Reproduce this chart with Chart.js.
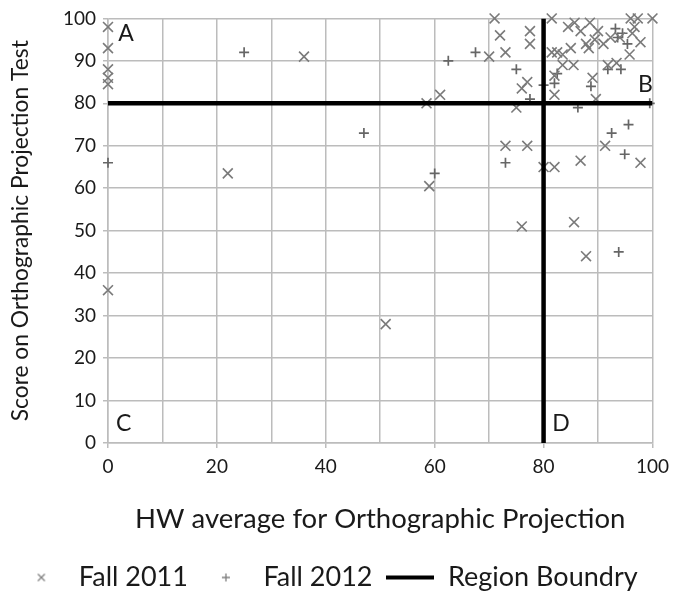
<!DOCTYPE html>
<html>
<head>
<meta charset="utf-8">
<script src="https://cdn.jsdelivr.net/npm/chart.js@4"></script>
<style>
  html, body { margin: 0; padding: 0; background: #fff; }
  #wrap { width: 676px; height: 605px; }
</style>
</head>
<body>
<div id="wrap"><canvas id="chart"></canvas></div>
<script>
// Fall 2011 students: [HW average, test score]
const fall2011 = [
  [0, 98], [0, 93], [0, 88], [0, 86], [0, 84.5], [0, 36],
  [22, 63.5], [36, 91], [51, 28], [58.5, 80], [61, 82], [59, 60.5],
  [71, 100], [72, 96], [77.5, 97], [77.5, 94], [70, 91], [73, 92],
  [77, 85], [76, 83.5], [75, 79], [73, 70], [77, 70], [80, 65], [82, 65], [76, 51],
  [81.5, 100], [84.5, 98], [85.7, 99], [86.8, 97], [88.5, 99], [81.5, 92], [82.5, 92],
  [83.5, 91.5], [85, 93], [83.5, 89], [85.5, 89], [82, 86.5], [82, 82],
  [87.8, 94], [88.3, 93], [89.4, 95], [90, 97], [91, 94], [92.3, 95.5], [94, 95.5],
  [96, 100], [97.3, 100], [100, 100], [96.7, 98], [96.3, 96.5], [97.8, 94.4],
  [95.8, 91.5], [91.8, 89], [93.4, 89.5], [89, 86], [89.6, 81], [91.3, 70],
  [86.8, 66.5], [97.8, 66], [85.6, 52], [87.8, 44]
];

// Fall 2012 students
const fall2012 = [
  [0, 66], [25, 92], [47, 73], [60, 63.5], [62.5, 90], [67.5, 92], [75, 88],
  [77.5, 81], [80, 84.3], [82, 84.7], [82.5, 87], [86.3, 79], [88.7, 84],
  [93.2, 97.6], [93.6, 95.5], [94.5, 96.5], [95.4, 94], [91.8, 88], [94.2, 88],
  [99.5, 80], [73, 66], [92.5, 73], [95.6, 75], [94.9, 68], [93.8, 45]
];

// region boundary: horizontal at 80, vertical at 80 (null breaks the line)
const boundaryX = [0, 100, 80, 80, 80];
const boundaryY = [80, 80, null, 0, 100];

// region letters
const regionNames = ['A', 'B', 'C', 'D'];
const regionX = [3.3, 98.7, 2.9, 83.2];
const regionY = [96.5, 84.3, 4.5, 4.5];

const FONT = 'Lato';
const toPts = (rows) => rows.map(([x, y]) => ({ x, y }));

// small canvases used as legend symbols
function legendIcon(w, h, draw) {
  const c = document.createElement('canvas');
  c.width = w;
  c.height = h;
  draw(c.getContext('2d'));
  return c;
}
const iconX = legendIcon(10, 10, (g) => {
  g.strokeStyle = '#7f7f7f'; g.lineWidth = 1.3;
  g.beginPath(); g.moveTo(1.5, 1.5); g.lineTo(8.5, 8.5); g.moveTo(8.5, 1.5); g.lineTo(1.5, 8.5); g.stroke();
});
const iconPlus = legendIcon(10, 10, (g) => {
  g.strokeStyle = '#7f7f7f'; g.lineWidth = 1.3;
  g.beginPath(); g.moveTo(1, 5); g.lineTo(9, 5); g.moveTo(5, 1); g.lineTo(5, 9); g.stroke();
});
const iconLine = legendIcon(48, 5, (g) => {
  g.fillStyle = '#000'; g.fillRect(0, 0.5, 48, 4);
});
const legendIcons = [iconX, iconPlus, iconLine];

const regionLabels = {
  id: 'regionLabels',
  afterDatasetsDraw(chart) {
    const { ctx, scales } = chart;
    ctx.save();
    ctx.fillStyle = '#1a1a1a';
    ctx.font = `23px ${FONT}`;
    ctx.textAlign = 'center';
    ctx.textBaseline = 'middle';
    regionNames.forEach((t, i) => {
      ctx.fillText(t, scales.x.getPixelForValue(regionX[i]), scales.y.getPixelForValue(regionY[i]));
    });
    ctx.restore();
  },
};

new Chart(document.getElementById('chart'), {
  type: 'scatter',
  data: {
    datasets: [
      {
        label: 'Fall 2011',
        data: toPts(fall2011),
        pointStyle: 'crossRot',
        pointRadius: 7,
        pointBorderWidth: 1.6,
        pointBorderColor: '#7a7a7a',
        pointBackgroundColor: '#7a7a7a',
        borderColor: '#7a7a7a',
        clip: false,
        order: 2,
      },
      {
        label: 'Fall 2012',
        data: toPts(fall2012),
        pointStyle: 'cross',
        pointRadius: 5,
        pointBorderWidth: 1.7,
        pointBorderColor: '#666',
        pointBackgroundColor: '#666',
        borderColor: '#666',
        clip: false,
        order: 3,
      },
      {
        label: 'Region Boundry',
        data: boundaryX.map((x, i) => ({ x, y: boundaryY[i] })),
        showLine: true,
        spanGaps: false,
        borderColor: '#000',
        borderWidth: 4.5,
        pointRadius: 0,
        pointHoverRadius: 0,
        order: 1,
      },
    ],
  },
  options: {
    responsive: true,
    maintainAspectRatio: false,
    animation: false,
    events: [],
    layout: { padding: { top: 18, right: 21, bottom: 4, left: 0 } },
    plugins: {
      tooltip: { enabled: false },
      legend: {
        position: 'bottom',
        labels: {
          usePointStyle: true,
          pointStyleWidth: 48,
          boxHeight: 8,
          padding: 14,
          color: '#1a1a1a',
          font: { family: FONT, size: 27 },
          sort: (a, b) => a.datasetIndex - b.datasetIndex,
          generateLabels: (chart) => {
            const items = Chart.defaults.plugins.legend.labels.generateLabels(chart);
            items.forEach((it) => { it.pointStyle = legendIcons[it.datasetIndex]; });
            return items;
          },
        },
      },
    },
    scales: {
      x: {
        type: 'linear',
        min: 0,
        max: 100,
        afterFit: (s) => { s.height = 107; },
        ticks: {
          stepSize: 10,
          padding: 7,
          color: '#1a1a1a',
          font: { family: FONT, size: 19 },
          callback: (v) => (v % 20 === 0 ? v : ''),
        },
        grid: {
          color: '#bcbcbc',
          lineWidth: 1.5,
          tickLength: 5,
          tickColor: (c) => (c.tick && c.tick.value % 20 === 0 ? '#bcbcbc' : 'rgba(0,0,0,0)'),
        },
        border: { color: '#bcbcbc', width: 1.5 },
        title: {
          display: true,
          text: 'HW average for Orthographic Projection',
          color: '#1a1a1a',
          font: { family: FONT, size: 27.5 },
          padding: { top: 0, bottom: 14 },
        },
      },
      y: {
        type: 'linear',
        min: 0,
        max: 100,
        afterFit: (s) => { s.width = 108; },
        ticks: {
          stepSize: 10,
          padding: 7,
          color: '#1a1a1a',
          font: { family: FONT, size: 19 },
        },
        grid: { color: '#bcbcbc', lineWidth: 1.5, tickLength: 5 },
        border: { color: '#bcbcbc', width: 1.5 },
        title: {
          display: true,
          text: 'Score on Orthographic Projection Test',
          color: '#1a1a1a',
          font: { family: FONT, size: 22.8 },
          padding: { top: 7, bottom: 0 },
        },
      },
    },
  },
  plugins: [regionLabels],
});
</script>
</body>
</html>
